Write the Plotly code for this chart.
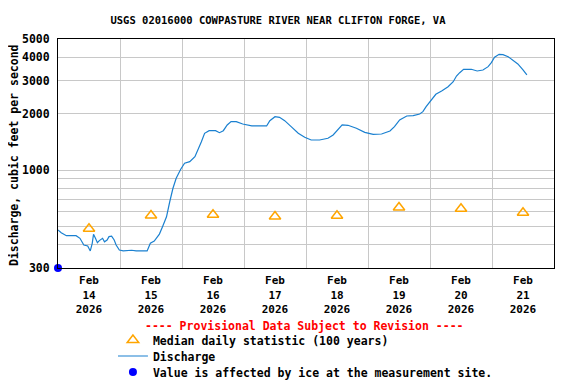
import plotly.graph_objects as go

# Discharge (cubic feet per second)
times = [
    "2026-02-14 00:00", "2026-02-14 01:15", "2026-02-14 03:15", "2026-02-14 07:00",
    "2026-02-14 08:30", "2026-02-14 10:00", "2026-02-14 11:30", "2026-02-14 12:00",
    "2026-02-14 12:30", "2026-02-14 13:15", "2026-02-14 13:45", "2026-02-14 14:30",
    "2026-02-14 15:15", "2026-02-14 16:00", "2026-02-14 17:15", "2026-02-14 18:00",
    "2026-02-14 19:00", "2026-02-14 19:45", "2026-02-14 20:45", "2026-02-14 21:45",
    "2026-02-14 22:30", "2026-02-14 23:45", "2026-02-15 01:15", "2026-02-15 04:30",
    "2026-02-15 06:15", "2026-02-15 10:30", "2026-02-15 11:45", "2026-02-15 13:15",
    "2026-02-15 15:15", "2026-02-15 16:30", "2026-02-15 18:00", "2026-02-15 19:15",
    "2026-02-15 20:30", "2026-02-15 21:45", "2026-02-15 23:30", "2026-02-16 01:00",
    "2026-02-16 03:00", "2026-02-16 05:00", "2026-02-16 06:15", "2026-02-16 07:30",
    "2026-02-16 08:45", "2026-02-16 10:30", "2026-02-16 13:00", "2026-02-16 14:30",
    "2026-02-16 16:00", "2026-02-16 17:30", "2026-02-16 19:00", "2026-02-16 21:00",
    "2026-02-16 23:30", "2026-02-17 01:30", "2026-02-17 03:00", "2026-02-17 06:00",
    "2026-02-17 08:45", "2026-02-17 10:00", "2026-02-17 12:00", "2026-02-17 13:45",
    "2026-02-17 15:45", "2026-02-17 18:15", "2026-02-17 21:00", "2026-02-17 23:30",
    "2026-02-18 02:00", "2026-02-18 05:15", "2026-02-18 08:30", "2026-02-18 10:30",
    "2026-02-18 12:30", "2026-02-18 14:00", "2026-02-18 16:15", "2026-02-18 19:30",
    "2026-02-18 22:45", "2026-02-19 02:00", "2026-02-19 05:15", "2026-02-19 08:30",
    "2026-02-19 10:15", "2026-02-19 12:15", "2026-02-19 15:00", "2026-02-19 17:30",
    "2026-02-19 20:00", "2026-02-19 21:15", "2026-02-19 22:30", "2026-02-20 00:15",
    "2026-02-20 02:15", "2026-02-20 04:30", "2026-02-20 07:00", "2026-02-20 09:00",
    "2026-02-20 10:15", "2026-02-20 11:30", "2026-02-20 13:00", "2026-02-20 16:00",
    "2026-02-20 18:15", "2026-02-20 20:30", "2026-02-20 22:30", "2026-02-20 23:45",
    "2026-02-21 01:00", "2026-02-21 02:45", "2026-02-21 04:15", "2026-02-21 06:15",
    "2026-02-21 08:00", "2026-02-21 10:00", "2026-02-21 12:00", "2026-02-21 13:30",
]
discharge = [
    478, 463, 446, 446,
    432, 398, 393, 382,
    370, 406, 454, 432,
    409, 420, 432, 414,
    423, 441, 444, 423,
    398, 374, 370, 373,
    370, 370, 407, 418,
    455, 500, 563, 677,
    799, 903, 1009, 1086,
    1108, 1178, 1279, 1416,
    1570, 1621, 1621, 1582,
    1621, 1739, 1811, 1811,
    1760, 1739, 1718, 1718,
    1718, 1833, 1925, 1911,
    1833, 1703, 1570, 1495,
    1446, 1446, 1477, 1538,
    1649, 1739, 1732, 1670,
    1589, 1551, 1556, 1615,
    1703, 1849, 1942, 1949,
    1990, 2047, 2177, 2343,
    2535, 2640, 2783, 2960,
    3174, 3306, 3447, 3447,
    3375, 3418, 3561, 3738,
    3995, 4144, 4124, 4023,
    3864, 3680, 3418, 3214,
]

# Median daily statistic (100 years), plotted at noon of each day
median_days = [
    "2026-02-14 12:00", "2026-02-15 12:00", "2026-02-16 12:00", "2026-02-17 12:00",
    "2026-02-18 12:00", "2026-02-19 12:00", "2026-02-20 12:00", "2026-02-21 12:00",
]
median_values = [486, 572, 577, 565, 570, 631, 621, 591]

# Ice-affected value
ice_times = ["2026-02-14 00:00"]
ice_values = [300]

y_tickvals = [300, 400, 500, 600, 700, 800, 900, 1000, 2000, 3000, 4000, 5000]
y_ticktext = ["300", "", "", "", "", "", "", "1000", "2000", "3000", "4000", "5000"]
x_range = ["2026-02-14 00:00", "2026-02-22 00:00"]

FONT = "DejaVu Sans Mono"
FS = 11.5

# The page body has an 8px margin; lay the figure out in page pixels.
BODY = 8
W, H = 576 - BODY, 384 - BODY
PLOT_L, PLOT_R, PLOT_T, PLOT_B = 58 - BODY, 554.5 - BODY, 39 - BODY, 268 - BODY


def px_x(px):
    return (px - BODY - PLOT_L) / (PLOT_R - PLOT_L)


def px_y(py):
    return (PLOT_B - (py - BODY)) / (PLOT_B - PLOT_T)


def legend_at(py):
    return dict(
        x=px_x(113), y=px_y(py), xanchor="left", yanchor="middle",
        bgcolor="rgba(0,0,0,0)", borderwidth=0,
        font=dict(family=FONT, size=FS, color="black"),
        itemwidth=30,
    )


fig = go.Figure()
fig.add_trace(go.Scatter(
    x=median_days, y=median_values, mode="markers",
    name="<b>Median daily statistic (100 years)</b>", legend="legend",
    marker=dict(symbol="triangle-up-open", size=10, color="#FFA500",
                line=dict(width=1.5, color="#FFA500")),
))
fig.add_trace(go.Scatter(
    x=times, y=discharge, mode="lines", name="<b>Discharge</b>", legend="legend2",
    line=dict(color="#1a80d0", width=1.2),
))
fig.add_trace(go.Scatter(
    x=ice_times, y=ice_values, mode="markers",
    name="<b>Value is affected by ice at the measurement site.</b>", legend="legend3",
    marker=dict(symbol="circle", size=8, color="#0000ff"),
    cliponaxis=False,
))

fig.update_layout(
    width=W, height=H,
    margin=dict(l=PLOT_L, r=W - PLOT_R, t=PLOT_T, b=H - PLOT_B, autoexpand=False),
    paper_bgcolor="white", plot_bgcolor="white",
    font=dict(family=FONT, size=FS, color="black"),
    title=dict(
        text="<b>USGS 02016000 COWPASTURE RIVER NEAR CLIFTON FORGE, VA</b>",
        x=(278 - BODY) / W, xref="container", xanchor="center",
        y=1 - (20 - BODY) / H, yref="container", yanchor="middle",
        font=dict(family=FONT, size=10.5, color="black"),
    ),
    xaxis=dict(
        type="date", range=x_range, automargin=False,
        dtick=86400000, tick0="2026-02-14", ticklabelmode="period",
        tickformat="<b>%b</b><br><b>%d</b><br><b>%Y</b>",
        showgrid=True, gridcolor="#c8c8c8", gridwidth=1,
        showline=True, linecolor="black", linewidth=1, mirror=True,
        ticks="", tickfont=dict(family=FONT, size=11, color="black"),
        ticklabelstandoff=2,
        zeroline=False,
    ),
    yaxis=dict(
        type="log", range=[2.4771, 3.699], automargin=False,
        tickmode="array", tickvals=y_tickvals,
        ticktext=["<b>%s</b>" % t if t else "" for t in y_ticktext],
        showgrid=True, gridcolor="#c8c8c8", gridwidth=1,
        showline=True, linecolor="black", linewidth=1, mirror=True,
        ticks="", tickfont=dict(family=FONT, size=FS, color="black"),
        ticklabelstandoff=5,
        zeroline=False,
    ),
    showlegend=True,
    legend=legend_at(340),
    legend2=legend_at(356),
    legend3=legend_at(372),
    annotations=[
        dict(
            text="<b>---- Provisional Data Subject to Revision ----</b>",
            x=px_x(305), xref="paper", y=px_y(326), yref="paper",
            xanchor="center", yanchor="middle", showarrow=False,
            font=dict(family=FONT, size=FS, color="red"),
        ),
        dict(
            text="<b>Discharge, cubic feet per second</b>",
            x=px_x(14), xref="paper", y=px_y(155), yref="paper",
            xanchor="center", yanchor="middle", showarrow=False, textangle=-90,
            font=dict(family=FONT, size=FS, color="black"),
        ),
    ],
)

fig.write_html("out.html")
